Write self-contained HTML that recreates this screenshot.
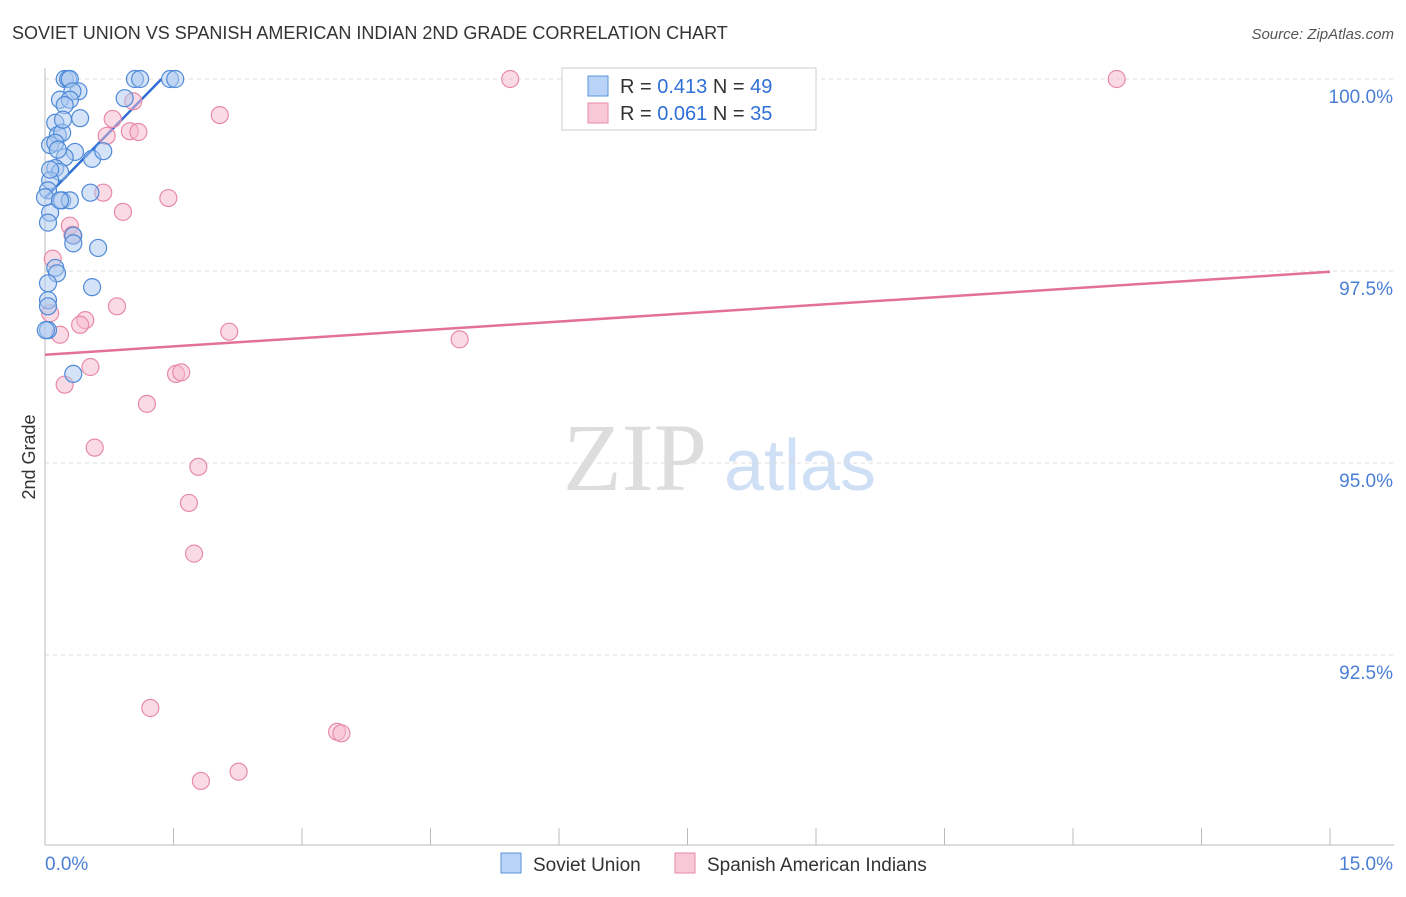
<!DOCTYPE html>
<html><head><meta charset="utf-8"><style>
body{margin:0;background:#fff;font-family:"Liberation Sans",sans-serif}
</style></head><body>
<svg width="1406" height="892" viewBox="0 0 1406 892" xmlns="http://www.w3.org/2000/svg">
<text x="12" y="39" font-size="18" fill="#333">SOVIET UNION VS SPANISH AMERICAN INDIAN 2ND GRADE CORRELATION CHART</text>
<text x="1394" y="39" font-size="15" fill="#555" text-anchor="end" font-style="italic">Source: ZipAtlas.com</text>
<text x="35" y="457" font-size="18" fill="#333" transform="rotate(-90 35 457)" text-anchor="middle">2nd Grade</text>
<g><text x="635" y="490" font-size="96" fill="#ddd" font-family="Liberation Serif" text-anchor="middle">ZIP</text><text x="800" y="490" font-size="72" fill="#cfdff5" text-anchor="middle">atlas</text></g>
<g id="grid"></g><g id="axes"></g><g id="lines"></g><g id="pts"></g>
<g>
<rect x="562" y="68" width="254" height="62" fill="#fff" stroke="#ccc"/>
<rect x="588" y="76" width="20" height="20" fill="#b8d3f5" stroke="#5b93de"/>
<text x="620" y="93" font-size="20" fill="#333">R = <tspan fill="#2f6fd6">0.413</tspan>   N = <tspan fill="#2f6fd6">49</tspan></text>
<rect x="588" y="103" width="20" height="20" fill="#f9c8d6" stroke="#e88aa6"/>
<text x="620" y="120" font-size="20" fill="#333">R = <tspan fill="#2f6fd6">0.061</tspan>   N = <tspan fill="#2f6fd6">35</tspan></text>
</g>
<g>
<rect x="501" y="853" width="20" height="20" fill="#b8d3f5" stroke="#5b93de"/>
<text x="533" y="871" font-size="19" fill="#333">Soviet Union</text>
<rect x="675" y="853" width="20" height="20" fill="#f9c8d6" stroke="#e88aa6"/>
<text x="707" y="871" font-size="19" fill="#333">Spanish American Indians</text>
</g>
</svg>
<script>
const blueX=[0.23,0.27,0.29,1.05,1.11,1.46,1.52,0.39,0.32,0.175,0.29,0.93,0.23,0.41,0.12,0.15,0.2,0.06,0.12,0.35,0.23,0.55,0.68,0.12,0.175,0.06,0.035,0.2,0.29,0.53,0.06,0.035,0.33,0.33,0.62,0.12,0.14,0.035,0.55,0.035,0.035,0.035,0.33,0.15,0,0.06,0.21,0.01,0.175];
const blueY=[100,100,100,100,100,100,100,99.84,99.84,99.73,99.73,99.75,99.66,99.49,99.43,99.27,99.30,99.14,99.17,99.05,98.98,98.96,99.06,98.84,98.79,98.68,98.55,98.42,98.42,98.52,98.26,98.13,97.96,97.86,97.80,97.54,97.47,97.34,97.29,97.12,97.04,96.73,96.16,99.08,98.46,98.82,99.47,96.73,98.42];
const pinkX=[5.43,12.51,1.03,2.04,0.79,0.99,1.09,0.72,0.68,1.44,0.91,0.29,0.32,0.09,0.84,0.06,0.47,0.41,0.175,2.15,4.84,0.53,1.53,1.59,0.23,1.19,0.58,1.79,1.68,1.74,1.23,3.41,3.46,2.26,1.82];
const pinkY=[100,100,99.71,99.53,99.48,99.32,99.31,99.26,98.52,98.45,98.27,98.09,97.97,97.66,97.04,96.95,96.86,96.80,96.67,96.71,96.61,96.25,96.16,96.18,96.02,95.77,95.20,94.95,94.48,93.82,91.81,91.50,91.48,90.98,90.86];
const yTicks=[100,97.5,95,92.5];
const yTickLabels=["100.0%","97.5%","95.0%","92.5%"];
const blueLine=[[0,98.45],[1.36,100]];
const pinkLine=[[0,96.41],[15,97.49]];
const NS="http://www.w3.org/2000/svg";
const sx=v=>45+v*(1285/15), sy=v=>79+(100-v)*76.8;
function mk(p,t,a){const e=document.createElementNS(NS,t);for(const k in a)e.setAttribute(k,a[k]);document.getElementById(p).appendChild(e);return e;}
yTicks.forEach((t,i)=>{
 const g=mk('grid','line',{x1:45,x2:1394,y1:sy(t),y2:sy(t),stroke:'#ddd','stroke-dasharray':'4,4'});
 
 
 const l=mk('axes','text',{x:1393,y:sy(t)+24,'font-size':19,fill:'#4a7fd4','text-anchor':'end'});
 l.textContent=yTickLabels[i];
 
 
});
const ax=mk('axes','line',{x1:45,x2:45,y1:68,y2:845,stroke:'#bbb'});


const bx=mk('axes','line',{x1:45,x2:1394,y1:845,y2:845,stroke:'#bbb'});


for(let i=0;i<=10;i++){const t=mk('axes','line',{x1:sx(i*1.5),x2:sx(i*1.5),y1:828,y2:845,stroke:'#bbb'});
 
 }
[[0,'0.0%','start',45],[15,'15.0%','end',1393]].forEach(d=>{const t=mk('axes','text',{x:d[3],y:870,'font-size':19,fill:'#4a7fd4','text-anchor':d[2]});t.textContent=d[1];
 
 });
function pts(X,Y,fill,stroke,name){X.forEach((x,i)=>{const c=mk('pts','circle',{cx:sx(x),cy:sy(Y[i]),r:8.5,fill:fill,'fill-opacity':0.5,stroke:stroke,'stroke-width':1.2});
 
 });}
pts(pinkX,pinkY,'#f6b8cb','#e88aa6','pink-point');
pts(blueX,blueY,'#a9c8f0','#4f8ad8','blue-point');
const bl=mk('lines','line',{x1:sx(blueLine[0][0]),y1:sy(blueLine[0][1]),x2:sx(blueLine[1][0]),y2:sy(blueLine[1][1]),stroke:'#2f6fd6','stroke-width':2.5});


const pl=mk('lines','line',{x1:sx(pinkLine[0][0]),y1:sy(pinkLine[0][1]),x2:sx(pinkLine[1][0]),y2:sy(pinkLine[1][1]),stroke:'#e3709a','stroke-width':2.5});


</script>
</body></html>
